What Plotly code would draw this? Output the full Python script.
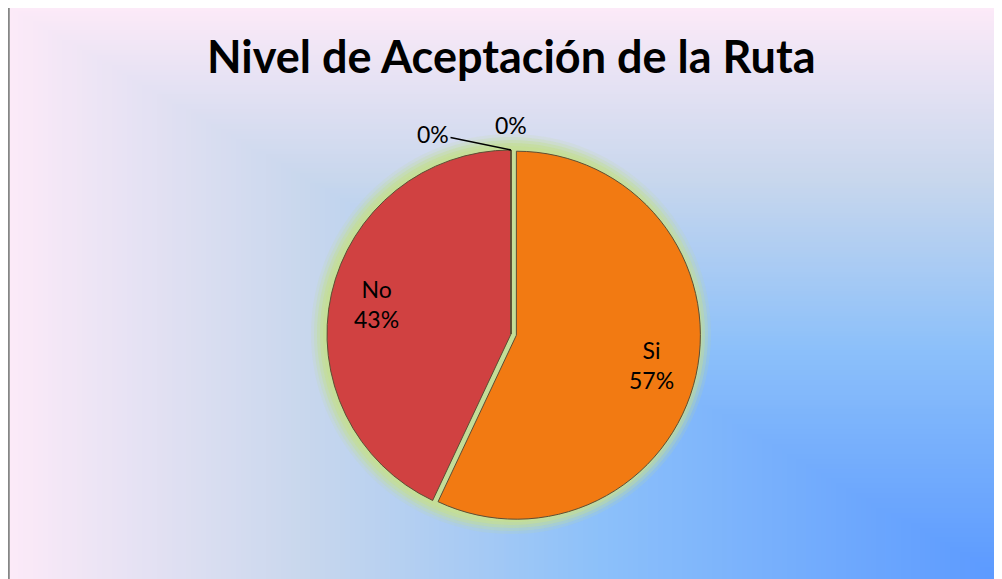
import math
import zlib
import struct
import base64
import plotly.graph_objects as go

# data
labels = ["Si", "No", "Tal vez", "No sabe"]
values = [57, 43, 0, 0]
slice_colors = ["#F27A12", "#D04141", "#8FB04A", "#6B8DC8"]
pull = [0.03, 0, 0, 0]
title = "Nivel de Aceptación de la Ruta"

# the page body keeps an 8px margin, so the figure is 8px smaller than the window
W, H = 994, 571
CX, CY, R = 503, 326, 184      # pie centre / radius in figure pixels


def px(x):
    return x / W


def py(y):
    return 1 - y / H


def gradient_png(w, h):
    # rectangular gradient from the top-left corner: pink -> lavender -> blue
    stops = [(0.0, (252, 234, 248)), (0.3, (200, 215, 237)),
             (0.6, (140, 192, 250)), (1.0, (92, 154, 255))]

    def col(t):
        for (t0, c0), (t1, c1) in zip(stops, stops[1:]):
            if t <= t1:
                f = (t - t0) / (t1 - t0)
                return bytes(int(round(a + (b - a) * f)) for a, b in zip(c0, c1))
        return bytes(stops[-1][1])

    raw = b""
    for j in range(h):
        row = b"\x00"
        for i in range(w):
            row += col(min(i / (w - 1), j / (h - 1)))
        raw += row

    def chunk(tag, data):
        c = tag + data
        return struct.pack(">I", len(data)) + c + struct.pack(">I", zlib.crc32(c) & 0xffffffff)

    png = b"\x89PNG\r\n\x1a\n"
    png += chunk(b"IHDR", struct.pack(">IIBBBBB", w, h, 8, 2, 0, 0, 0))
    png += chunk(b"IDAT", zlib.compress(raw, 9))
    png += chunk(b"IEND", b"")
    return "data:image/png;base64," + base64.b64encode(png).decode()


size = 2 * R * (1 + max(pull))
fig = go.Figure(go.Pie(
    labels=labels,
    values=values,
    sort=False,
    direction="clockwise",
    rotation=0,
    pull=pull,
    marker=dict(colors=slice_colors, line=dict(color="#5e4e34", width=1)),
    textinfo="none",
    domain=dict(x=[px(CX - size / 2), px(CX + size / 2)],
                y=[py(CY + size / 2), py(CY - size / 2)]),
    showlegend=False,
    hoverinfo="label+percent",
))

# slice labels, placed at the middle angle of each slice
total = sum(values)
label_font = dict(family="Lato, sans-serif", size=23, color="#000000")
start = 0.0
for lab, v, p in zip(labels, values, pull):
    share = v / total
    if v > 0:
        mid = math.radians((start + share / 2) * 360)
        d = R * (0.75 + p)
        fig.add_annotation(text=f"{lab}<br>{share:.0%}", xref="paper", yref="paper",
                           x=px(CX + d * math.sin(mid)), y=py(CY - d * math.cos(mid)),
                           showarrow=False, font=label_font)
    start += share

# zero slices sit at the top of the pie; labels as in the original
zero_pct = [f"{v / total:.0%}" for v in values if v == 0]
# first label with a leader line off to the left, second straight above
fig.add_annotation(text=zero_pct[0], xref="paper", yref="paper",
                   x=px(CX), y=py(CY - R), ax=-78, ay=-16,
                   showarrow=True, arrowhead=0, arrowwidth=1.5,
                   arrowcolor="#000000", standoff=0, startstandoff=0,
                   font=label_font)
fig.add_annotation(text=zero_pct[1], xref="paper", yref="paper",
                   x=px(CX), y=py(CY - R), yanchor="bottom", yshift=9,
                   showarrow=False, font=label_font)

# soft yellow-green glow behind the pie
for r, a in [(200, 0.15), (197, 0.25), (194, 0.40), (191, 0.60), (188, 0.85)]:
    fig.add_shape(type="circle", xref="paper", yref="paper", layer="below",
                  x0=px(CX - r), x1=px(CX + r), y0=py(CY + r), y1=py(CY - r),
                  fillcolor=f"rgba(196,222,150,{a})", line=dict(width=0))

# chart frame (left edge visible)
fig.add_shape(type="rect", xref="paper", yref="paper", layer="below",
              x0=px(0.8), x1=1.05, y0=-0.05, y1=1.05,
              line=dict(color="#868686", width=2), fillcolor="rgba(0,0,0,0)")

fig.add_layout_image(dict(
    source=gradient_png(200, 116), xref="paper", yref="paper",
    x=px(2), y=1, sizex=1 - px(2), sizey=1,
    xanchor="left", yanchor="top", sizing="stretch", layer="below",
))

fig.add_annotation(
    text=f"<b>{title}</b>",
    xref="paper", yref="paper", x=px(CX), y=py(48),
    xanchor="center", yanchor="middle", showarrow=False,
    font=dict(family="Lato, sans-serif", size=45, color="#000000"),
)

fig.update_layout(
    width=W, height=H,
    margin=dict(l=0, r=0, t=0, b=0),
    paper_bgcolor="#ffffff",
    plot_bgcolor="rgba(0,0,0,0)",
)

fig.write_html("out.html")
